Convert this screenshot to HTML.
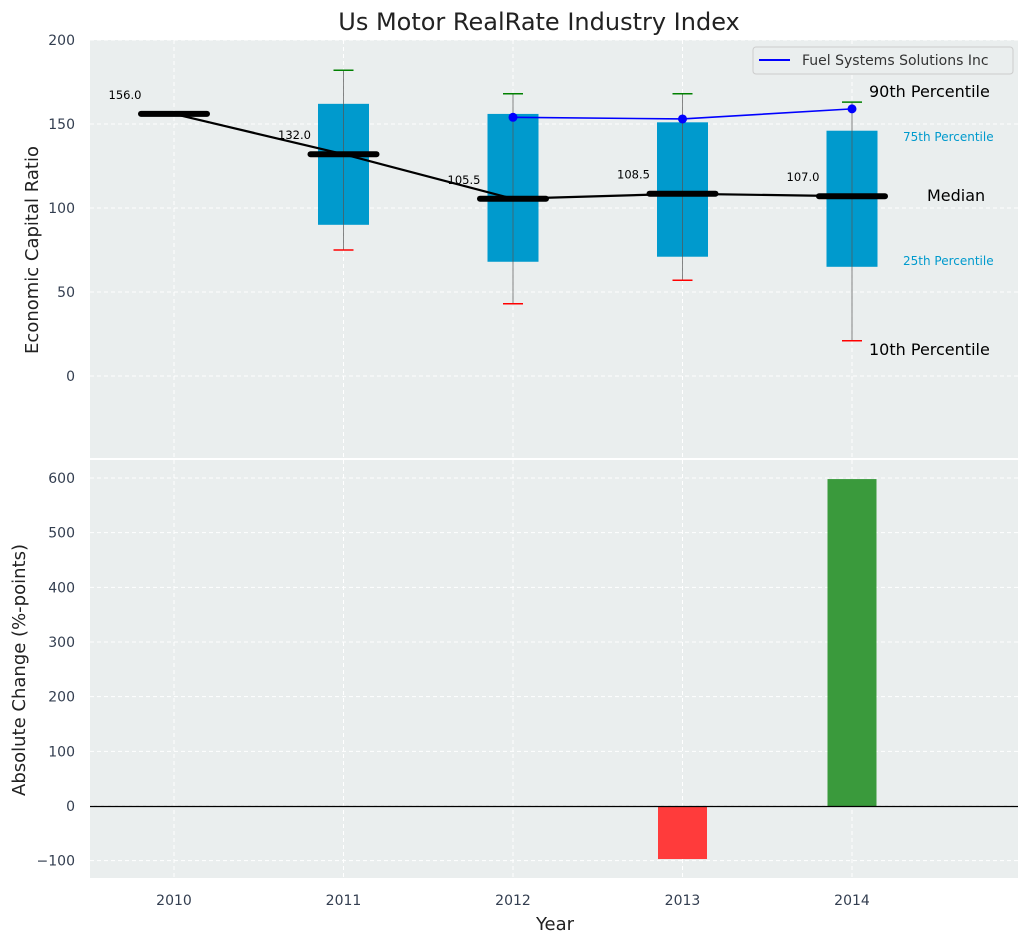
<!DOCTYPE html>
<html><head><meta charset="utf-8"><style>
body{margin:0;background:#fff;font-family:"DejaVu Sans","Liberation Sans",sans-serif;}
</style></head><body>
<svg id="c" width="1029" height="942" xmlns="http://www.w3.org/2000/svg"></svg>
<script>
const years=[2010,2011,2012,2013,2014];
const medians=[156,132,105.5,108.5,107];
const q1=[null,90,68,71,65];
const q3=[null,162,156,151,146];
const p10=[null,75,43,57,21];
const p90=[null,182,168,168,163];
const companyYears=[2012,2013,2014];
const companyVals=[154,153,159];
const changeYears=[2013,2014];
const changeVals=[-97,598];
const topTicks=[0,50,100,150,200];
const botTicks=[-100,0,100,200,300,400,500,600];

const svg=document.getElementById('c');
const NS='http://www.w3.org/2000/svg';
function el(t,a,txt){const e=document.createElementNS(NS,t);for(const k in a)e.setAttribute(k,a[k]);if(txt!=null)e.textContent=txt;svg.appendChild(e);return e;}
const L=90,R=1018;
const x=v=>174+(v-2010)*169.5;
const yT=v=>376-v*1.68;
const yB=v=>806-v*0.5467;
let p=el('rect',{x:L,y:40,width:R-L,height:418,fill:'#eaeeee'});

p=el('rect',{x:L,y:460,width:R-L,height:418,fill:'#eaeeee'});

years.forEach(yr=>{
  el('line',{x1:x(yr),x2:x(yr),y1:40,y2:458,stroke:'#fff','stroke-dasharray':'4,3','stroke-width':1});
  el('line',{x1:x(yr),x2:x(yr),y1:460,y2:878,stroke:'#fff','stroke-dasharray':'4,3','stroke-width':1});
  let t=el('text',{x:x(yr),y:905,'text-anchor':'middle','font-size':14,fill:'#333e50'},yr);
  
});
topTicks.forEach(v=>{
  el('line',{x1:L,x2:R,y1:yT(v),y2:yT(v),stroke:'#fff','stroke-dasharray':'4,3'});
  let t=el('text',{x:75,y:yT(v)+5,'text-anchor':'end','font-size':14,fill:'#333e50'},v);
  
});
botTicks.forEach(v=>{
  el('line',{x1:L,x2:R,y1:yB(v),y2:yB(v),stroke:'#fff','stroke-dasharray':'4,3'});
  let t=el('text',{x:75,y:yB(v)+5,'text-anchor':'end','font-size':14,fill:'#333e50'},v<0?'\u2212'+(-v):v);
  
});
years.forEach((yr,i)=>{
  const cx=x(yr);
  if(q1[i]!=null){
    let b=el('rect',{x:cx-25.5,y:yT(q3[i]),width:51,height:yT(q1[i])-yT(q3[i]),fill:'#009acd'});
    
    el('line',{x1:cx,x2:cx,y1:yT(p90[i]),y2:yT(p10[i]),stroke:'#555','stroke-width':1,opacity:0.7});
    el('line',{x1:cx-10,x2:cx+10,y1:yT(p90[i]),y2:yT(p90[i]),stroke:'green','stroke-width':1.5});
    el('line',{x1:cx-10,x2:cx+10,y1:yT(p10[i]),y2:yT(p10[i]),stroke:'red','stroke-width':1.5});
  }
});
let pts=years.map((yr,i)=>x(yr)+','+yT(medians[i])).join(' ');
let ml=el('polyline',{points:pts,fill:'none',stroke:'#000','stroke-width':2.2});

years.forEach((yr,i)=>{
  let m=el('line',{x1:x(yr)-33,x2:x(yr)+33,y1:yT(medians[i]),y2:yT(medians[i]),stroke:'#000','stroke-width':6,'stroke-linecap':'round'});
  
  let t=el('text',{x:x(yr)-49,y:yT(medians[i])-15,'text-anchor':'middle','font-size':11.5,fill:'#000'},medians[i].toFixed(1));
  
});
let cl=el('polyline',{points:companyYears.map((yr,i)=>x(yr)+','+yT(companyVals[i])).join(' '),fill:'none',stroke:'blue','stroke-width':1.6});

companyYears.forEach((yr,i)=>{let c=el('circle',{cx:x(yr),cy:yT(companyVals[i]),r:4.5,fill:'blue'});
});
[['90th Percentile',869,97,16,'#000'],['75th Percentile',903,141,12,'#009acd'],['Median',927,201,16,'#000'],['25th Percentile',903,265,12,'#009acd'],['10th Percentile',869,355,16,'#000']].forEach(a=>{
  let t=el('text',{x:a[1],y:a[2],'font-size':a[3],fill:a[4]},a[0]);
  
});
let lg=el('rect',{x:753,y:47,width:260,height:27,rx:3,fill:'#eaeeee',stroke:'#ccc'});

el('line',{x1:759,x2:790,y1:60,y2:60,stroke:'blue','stroke-width':2});
let lt=el('text',{x:802,y:65,'font-size':14,fill:'#333'},'Fuel Systems Solutions Inc');

changeYears.forEach((yr,i)=>{
  const v=changeVals[i];
  let b=el('rect',{x:x(yr)-24.5,y:Math.min(yB(v),yB(0)),width:49,height:Math.abs(yB(v)-yB(0)),fill:v<0?'#ff3b3b':'#3a9a3c'});
  
});
el('line',{x1:L,x2:R,y1:yB(0)+0.5,y2:yB(0)+0.5,stroke:'#000','stroke-width':1.2});
let t=el('text',{x:539,y:30,'text-anchor':'middle','font-size':24,fill:'#222'},'Us Motor RealRate Industry Index');

t=el('text',{x:555,y:930,'text-anchor':'middle','font-size':18,fill:'#222'},'Year');

t=el('text',{x:38,y:250,'text-anchor':'middle','font-size':18,fill:'#222',transform:'rotate(-90 38 250)'},'Economic Capital Ratio');

t=el('text',{x:25,y:670,'text-anchor':'middle','font-size':18,fill:'#222',transform:'rotate(-90 25 670)'},'Absolute Change (%-points)');

</script>
</body></html>
